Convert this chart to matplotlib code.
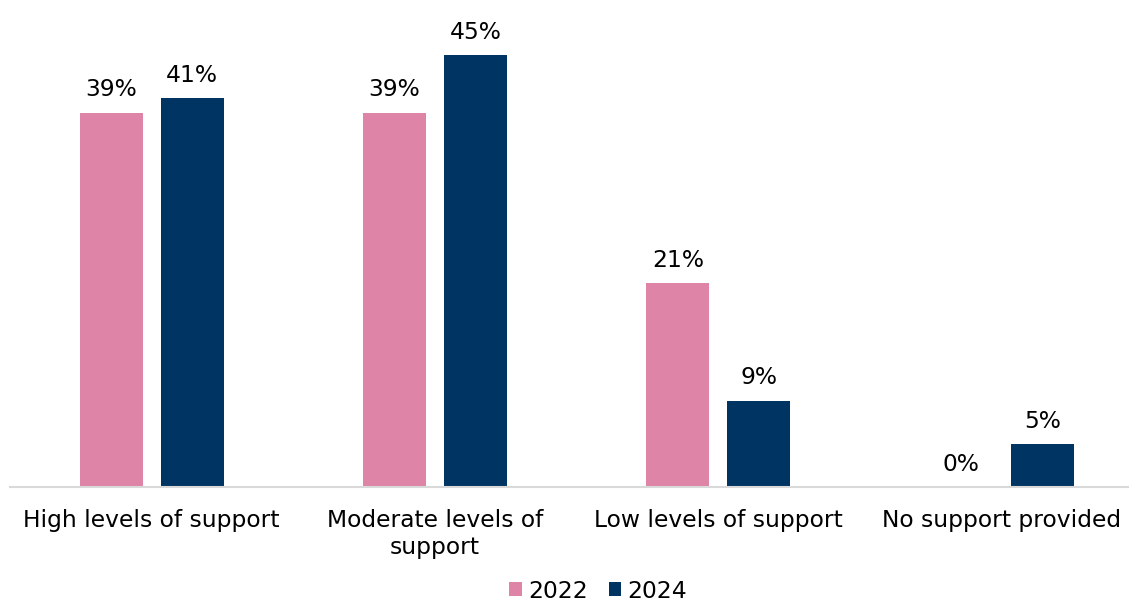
import matplotlib
matplotlib.use("Agg")
import matplotlib.pyplot as plt
import numpy as np

categories = ["High levels of support", "Moderate levels of\nsupport",
              "Low levels of support", "No support provided"]
series_names = ["2022", "2024"]
values_2022 = [39.0, 39.0, 21.2, 0.0]
values_2024 = [40.5, 45.0, 9.0, 4.5]
labels_2022 = ["39%", "39%", "21%", "0%"]
labels_2024 = ["41%", "45%", "9%", "5%"]
colors = ["#DE84A6", "#003462"]

FS = 16.8
plt.rcParams['font.family'] = ['DejaVu Sans']
fig = plt.figure(figsize=(11.29, 6.05), dpi=100)
ax = fig.add_axes([10/1129, 118/605, 1 - 10/1129, 480/605])

x = np.arange(len(categories))
w = 0.222
off = 0.143
b1 = ax.bar(x - off, values_2022, w, color=colors[0], label=series_names[0])
b2 = ax.bar(x + off, values_2024, w, color=colors[1], label=series_names[1])

for bars, labs in ((b1, labels_2022), (b2, labels_2024)):
    for bar, lab in zip(bars, labs):
        ax.annotate(lab, (bar.get_x() + bar.get_width()/2, bar.get_height()),
                    xytext=(0, 8), textcoords="offset points",
                    ha="center", va="bottom", fontsize=FS, color="#000000")

ax.set_xlim(-0.5, 3.449)
ax.set_ylim(0, 50)
ax.set_xticks(x)
ax.set_xticklabels(categories, fontsize=FS, linespacing=1.27)
ax.tick_params(axis="x", length=0, pad=15.5)
ax.set_yticks([])
for s in ["top", "right", "left"]:
    ax.spines[s].set_visible(False)
ax.spines["bottom"].set_color("#D9D9D9")
ax.spines["bottom"].set_linewidth(1.5)

fig.legend(handles=[b1, b2], labels=series_names, loc="center",
           bbox_to_anchor=(598/1129, 1 - 591/605), ncol=2, frameon=False,
           fontsize=FS, handlelength=0.55, handleheight=0.55,
           handletextpad=0.25, columnspacing=0.9)

fig.savefig("out.png", dpi=100)
